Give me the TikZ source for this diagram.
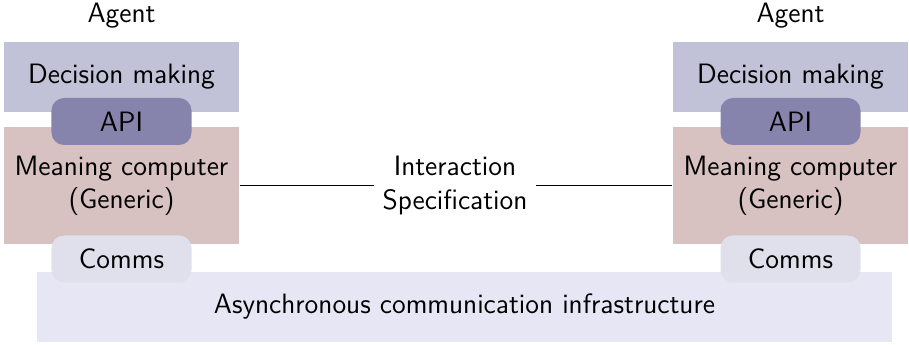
\documentclass[tikz,border=0pt]{standalone}
\usepackage{tikz}
\usetikzlibrary{positioning}
\definecolor{decisioncol}{HTML}{C1C2D7}
\definecolor{apicol}{HTML}{8684AC}
\definecolor{meaningcol}{HTML}{D8C1C1}
\definecolor{commscol}{HTML}{DFE0EC}
\definecolor{infracol}{HTML}{E6E6F5}
\tikzset{agent-line/.style={line width=0.5pt}}
\tikzset{agent-block/.style={inner sep=0, minimum width=94pt, align=center}}
\tikzset{agent-port/.style={inner sep=0, minimum width=56pt, minimum height=18.8pt, rounded corners=5pt}}
\tikzset{infra-block/.style={inner sep=0, minimum width=342pt, minimum height=28pt, fill=infracol}}

\begin{document}
\begin{tikzpicture}[x=0.4pt, y=-0.4pt, font=\sffamily\fontsize{11.2}{13.3}\selectfont]
            \useasboundingbox (0,0) rectangle (909,345);

            % left agent
            \node (agent1) at (121.5,16) {Agent};
            \node[agent-block, minimum height=28pt, fill=decisioncol] (decision1) at (121.5,77) {Decision making};
            \node[agent-block, minimum height=46.8pt, fill=meaningcol] (meaning1) at (121.5,185.5) {Meaning computer\\(Generic)};
            \node[agent-port, fill=apicol] (api1) at (121.5,121.5) {API};

            % right agent
            \node (agent2) at (790.5,16) {Agent};
            \node[agent-block, minimum height=28pt, fill=decisioncol] (decision2) at (790.5,77) {Decision making};
            \node[agent-block, minimum height=46.8pt, fill=meaningcol] (meaning2) at (790.5,185.5) {Meaning computer\\(Generic)};
            \node[agent-port, fill=apicol] (api2) at (790.5,121.5) {API};

            % shared infrastructure
            \node[infra-block] (infra) at (464.5,307) {Asynchronous communication infrastructure};
            \node[agent-port, fill=commscol] (comms1) at (121.5,259) {Comms};
            \node[agent-port, fill=commscol] (comms2) at (790.5,259) {Comms};

            \node[align=center] (spec) at (455,185.5) {Interaction\\Specification};
            \draw[agent-line] (meaning1) -- (spec);
            \draw[agent-line] (spec) -- (meaning2);
        \end{tikzpicture}
\end{document}
